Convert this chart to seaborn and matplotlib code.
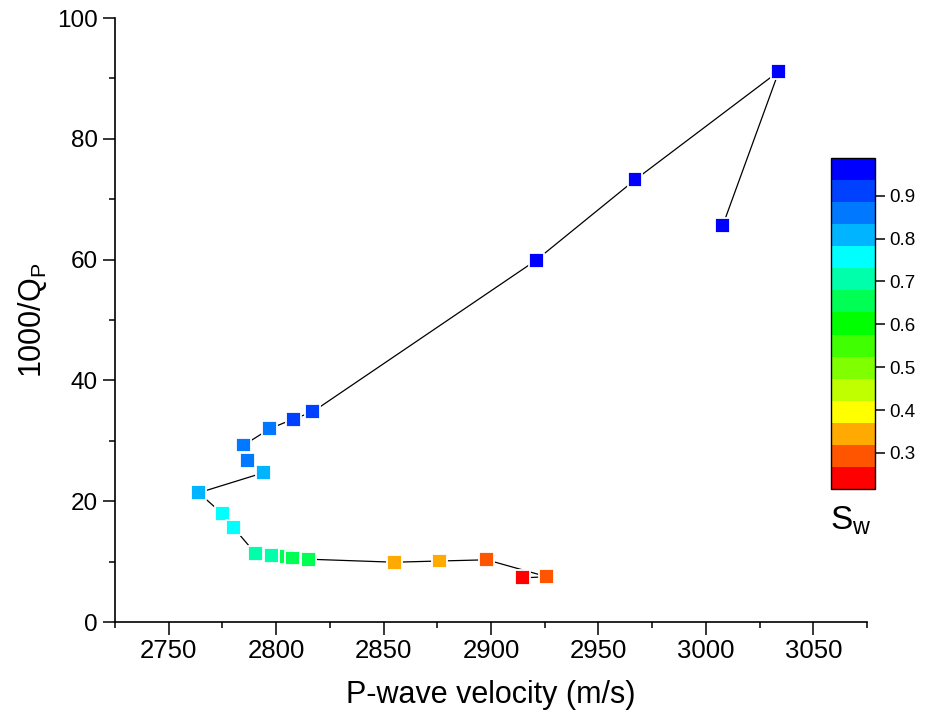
import matplotlib
matplotlib.use("Agg")
import matplotlib.pyplot as plt
import numpy as np
import pandas as pd
import seaborn as sns
from matplotlib.colors import ListedColormap, Normalize
from matplotlib.cm import ScalarMappable
from matplotlib.ticker import MultipleLocator

# ---- data (ordered along the connecting line, Sw decreasing) ----
velocity = [3007.8, 3034, 2967, 2921, 2817, 2808, 2797, 2785, 2786.5, 2794,
            2764, 2775, 2780, 2790.5, 2798, 2805, 2807.6, 2815, 2855, 2876,
            2898, 2926, 2914.5]
attenuation = [65.6, 91.2, 73.2, 59.9, 34.8, 33.6, 32.0, 29.3, 26.7, 24.7,
               21.4, 17.9, 15.7, 11.3, 11.0, 10.8, 10.6, 10.4, 9.9, 10.1,
               10.3, 7.5, 7.3]
sw = [0.988, 0.975, 0.96, 0.945, 0.93, 0.90, 0.88, 0.86, 0.845, 0.82,
      0.80, 0.77, 0.74, 0.72, 0.70, 0.67, 0.65, 0.63, 0.36, 0.33,
      0.31, 0.28, 0.216]
band_colors = ["#FF0000", "#FF5500", "#FFAA00", "#FFFF00", "#C0FF00",
               "#80FF00", "#40FF00", "#00FF00", "#00FF55", "#00FFAA",
               "#00FFFF", "#00B4FF", "#0078FF", "#0040FF", "#0000FF"]
cbar_ticks = [0.3, 0.4, 0.5, 0.6, 0.7, 0.8, 0.9]

sns.set_style("ticks", {"axes.edgecolor": "black", "text.color": "black",
                        "xtick.color": "black", "ytick.color": "black",
                        "axes.labelcolor": "black"})
plt.rcParams['font.family'] = ['Liberation Sans', 'DejaVu Sans']
plt.rcParams['mathtext.default'] = 'regular'

df = pd.DataFrame({"v": velocity, "q": attenuation, "sw": sw})
cmap = ListedColormap(band_colors)
norm = Normalize(vmin=min(sw), vmax=max(sw))

fig = plt.figure(figsize=(9.25, 7.19), dpi=100)
ax = fig.add_axes([0.1243, 0.1349, 0.813, 0.840])

sns.lineplot(data=df, x="v", y="q", sort=False, estimator=None,
             color="black", lw=0.9, ax=ax, zorder=1)
sns.scatterplot(data=df, x="v", y="q", hue="sw", palette=cmap, hue_norm=norm,
                marker="s", s=115, edgecolor="white", linewidth=1.3,
                legend=False, ax=ax, zorder=2)

ax.set_xlim(2725, 3075)
ax.set_ylim(0, 100)
sns.despine(ax=ax)
for sp in ("left", "bottom"):
    ax.spines[sp].set_linewidth(1.2)
ax.xaxis.set_major_locator(MultipleLocator(50))
ax.xaxis.set_minor_locator(MultipleLocator(25))
ax.yaxis.set_major_locator(MultipleLocator(20))
ax.yaxis.set_minor_locator(MultipleLocator(10))
ax.tick_params(which="major", direction="out", length=9, width=1.1)
ax.tick_params(axis="x", which="major", labelsize=18.5)
ax.tick_params(axis="y", which="major", labelsize=17.5)
ax.tick_params(which="minor", direction="out", length=4.5, width=1.1)
ax.set_xlabel("P-wave velocity (m/s)", fontsize=22, labelpad=12)
ax.set_ylabel("1000/Q$_P$", fontsize=22, labelpad=6)

cax = fig.add_axes([0.8984, 0.3199, 0.0476, 0.4604])
cb = fig.colorbar(ScalarMappable(norm=norm, cmap=cmap), cax=cax, ticks=cbar_ticks)
cb.outline.set_linewidth(1.0)
cax.tick_params(labelsize=13.5, length=7, width=1.1)
fig.text(851 / 925, 1 - 521 / 719, "S$_w$", ha="center", va="center", fontsize=24)

fig.savefig("out.png", dpi=100)
